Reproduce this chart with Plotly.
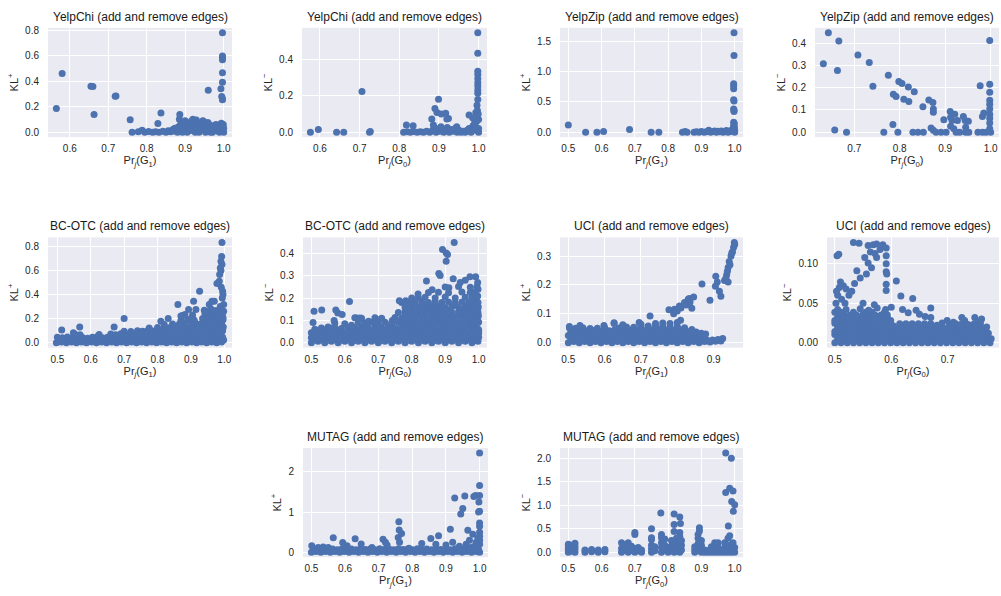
import plotly.graph_objects as go

# ---------------- data (Pr_j, KL) ----------------
yelpchi_kl_pos = [
    (0.565, 0.186), (0.580, 0.459), (0.655, 0.359), (0.660, 0.357), (0.663, 0.139), (0.718, 0.281), (0.720, 0.284),
    (0.757, 0.098), (0.762, 0.000), (0.778, 0.003), (0.788, 0.015), (0.795, 0.000), (0.805, 0.004), (0.815, 0.000),
    (0.823, 0.002), (0.829, 0.067), (0.832, 0.000), (0.837, 0.150), (0.842, 0.006), (0.850, 0.000), (0.856, 0.010),
    (0.862, 0.002), (0.868, 0.020), (0.870, 0.008), (0.873, 0.030), (0.877, 0.008), (0.880, 0.000), (0.882, 0.040),
    (0.885, 0.100), (0.886, 0.139), (0.888, 0.060), (0.890, 0.020), (0.892, 0.035), (0.893, 0.000), (0.897, 0.050),
    (0.900, 0.090), (0.903, 0.030), (0.905, 0.000), (0.906, 0.070), (0.910, 0.010), (0.912, 0.060), (0.913, 0.040),
    (0.915, 0.015), (0.916, 0.085), (0.919, 0.020), (0.920, 0.100), (0.922, 0.060), (0.925, 0.045), (0.926, 0.000),
    (0.929, 0.095), (0.930, 0.080), (0.932, 0.035), (0.935, 0.070), (0.936, 0.000), (0.938, 0.010), (0.941, 0.050),
    (0.944, 0.025), (0.946, 0.090), (0.947, 0.085), (0.950, 0.060), (0.953, 0.000), (0.955, 0.020), (0.956, 0.040),
    (0.959, 0.075), (0.960, 0.328), (0.961, 0.050), (0.962, 0.015), (0.965, 0.055), (0.966, 0.000), (0.968, 0.030),
    (0.971, 0.000), (0.974, 0.045), (0.975, 0.010), (0.977, 0.020), (0.980, 0.060), (0.983, 0.010), (0.985, 0.020),
    (0.986, 0.035), (0.989, 0.000), (0.992, 0.050), (0.993, 0.341), (0.994, 0.070), (0.995, 0.020), (0.995, 0.279),
    (0.997, 0.010), (0.997, 0.253), (0.997, 0.262), (0.997, 0.392), (0.997, 0.465), (0.997, 0.568), (0.997, 0.587),
    (0.997, 0.598), (0.997, 0.779), (0.998, 0.040), (0.999, 0.060), (1.000, 0.000), (1.000, 0.030),
]

yelpchi_kl_neg = [
    (0.576, 0.000), (0.596, 0.015), (0.642, 0.000), (0.660, 0.000), (0.706, 0.224), (0.725, 0.000), (0.727, 0.003),
    (0.811, 0.000), (0.818, 0.040), (0.820, 0.002), (0.828, 0.000), (0.835, 0.035), (0.836, 0.004), (0.845, 0.000),
    (0.853, 0.002), (0.861, 0.000), (0.869, 0.005), (0.877, 0.000), (0.882, 0.073), (0.884, 0.010), (0.886, 0.040),
    (0.889, 0.025), (0.890, 0.131), (0.893, 0.000), (0.895, 0.109), (0.897, 0.015), (0.899, 0.182), (0.902, 0.005),
    (0.905, 0.030), (0.906, 0.100), (0.907, 0.020), (0.912, 0.000), (0.917, 0.105), (0.917, 0.010), (0.920, 0.073),
    (0.921, 0.025), (0.924, 0.075), (0.926, 0.000), (0.931, 0.015), (0.936, 0.005), (0.941, 0.020), (0.945, 0.030),
    (0.946, 0.000), (0.951, 0.010), (0.956, 0.000), (0.961, 0.005), (0.966, 0.000), (0.971, 0.010), (0.976, 0.095),
    (0.976, 0.020), (0.981, 0.000), (0.985, 0.080), (0.986, 0.035), (0.990, 0.050), (0.993, 0.109), (0.993, 0.030),
    (0.994, 0.010), (0.995, 0.060), (0.996, 0.149), (0.997, 0.120), (0.998, 0.180), (0.998, 0.215), (0.998, 0.233),
    (0.998, 0.255), (0.998, 0.273), (0.998, 0.295), (0.998, 0.318), (0.998, 0.336), (0.998, 0.436), (0.998, 0.549),
    (0.999, 0.100), (1.000, 0.000), (1.000, 0.020), (1.000, 0.070),
]

yelpzip_kl_pos = [
    (0.500, 0.120), (0.552, 0.000), (0.586, 0.000), (0.606, 0.010), (0.684, 0.045), (0.749, 0.000), (0.772, 0.000),
    (0.843, 0.000), (0.851, 0.010), (0.857, 0.000), (0.878, 0.000), (0.885, 0.005), (0.893, 0.000), (0.900, 0.010),
    (0.908, 0.000), (0.915, 0.005), (0.922, 0.030), (0.928, 0.000), (0.934, 0.010), (0.940, 0.020), (0.945, 0.000),
    (0.950, 0.015), (0.955, 0.005), (0.960, 0.020), (0.965, 0.000), (0.970, 0.010), (0.975, 0.025), (0.980, 0.000),
    (0.985, 0.020), (0.990, 0.010), (0.994, 0.040), (0.995, 0.055), (0.997, 0.109), (0.997, 0.164), (0.999, 0.080),
    (0.999, 0.140), (0.997, 0.382), (0.998, 0.344), (0.998, 0.364), (0.997, 0.535), (0.998, 0.515), (0.997, 0.720),
    (0.997, 0.764), (0.997, 0.802), (0.998, 1.271), (0.998, 1.647), (1.000, 0.000), (1.000, 0.030),
]

yelpzip_kl_neg = [
    (0.632, 0.308), (0.643, 0.447), (0.657, 0.010), (0.663, 0.277), (0.666, 0.410), (0.683, 0.000), (0.708, 0.347),
    (0.733, 0.313), (0.741, 0.206), (0.765, 0.000), (0.775, 0.256), (0.785, 0.034), (0.786, 0.170), (0.792, 0.160),
    (0.796, 0.000), (0.798, 0.228), (0.805, 0.219), (0.809, 0.148), (0.819, 0.203), (0.820, 0.138), (0.829, 0.000),
    (0.832, 0.182), (0.840, 0.000), (0.851, 0.114), (0.852, 0.000), (0.864, 0.145), (0.869, 0.019), (0.873, 0.133),
    (0.874, 0.104), (0.874, 0.090), (0.874, 0.008), (0.880, 0.000), (0.891, 0.000), (0.897, 0.056), (0.902, 0.000),
    (0.911, 0.093), (0.912, 0.067), (0.912, 0.027), (0.915, 0.052), (0.919, 0.015), (0.921, 0.081), (0.924, 0.000),
    (0.927, 0.052), (0.932, 0.000), (0.940, 0.070), (0.944, 0.052), (0.945, 0.022), (0.945, 0.000), (0.951, 0.049),
    (0.952, 0.000), (0.972, 0.000), (0.977, 0.209), (0.982, 0.070), (0.982, 0.000), (0.985, 0.086), (0.990, 0.000),
    (0.998, 0.412), (0.998, 0.216), (0.998, 0.180), (0.998, 0.144), (0.998, 0.126), (0.998, 0.104), (0.998, 0.081),
    (0.998, 0.062), (0.998, 0.041), (0.998, 0.015), (1.000, 0.000),
]

bcotc_kl_pos = [
    (0.497, 0.000), (0.512, 0.006), (0.527, 0.000), (0.542, 0.006), (0.557, 0.000), (0.572, 0.006), (0.587, 0.000),
    (0.602, 0.006), (0.617, 0.000), (0.632, 0.006), (0.647, 0.000), (0.662, 0.006), (0.677, 0.000), (0.692, 0.006),
    (0.707, 0.000), (0.722, 0.006), (0.737, 0.000), (0.752, 0.006), (0.767, 0.000), (0.782, 0.006), (0.797, 0.000),
    (0.812, 0.006), (0.827, 0.000), (0.842, 0.006), (0.857, 0.000), (0.872, 0.006), (0.887, 0.000), (0.902, 0.006),
    (0.917, 0.000), (0.932, 0.006), (0.947, 0.000), (0.962, 0.006), (0.977, 0.000), (0.992, 0.006),
    (0.504, 0.025), (0.519, 0.020), (0.534, 0.028), (0.549, 0.022), (0.564, 0.026), (0.579, 0.020), (0.594, 0.024),
    (0.609, 0.021), (0.624, 0.027), (0.639, 0.022), (0.654, 0.025), (0.669, 0.020), (0.684, 0.028), (0.699, 0.023),
    (0.714, 0.026), (0.729, 0.021), (0.744, 0.027), (0.759, 0.022), (0.774, 0.025), (0.789, 0.020), (0.804, 0.028),
    (0.819, 0.023), (0.834, 0.026), (0.849, 0.021), (0.864, 0.027), (0.879, 0.022), (0.894, 0.025), (0.909, 0.020),
    (0.924, 0.028), (0.939, 0.023), (0.954, 0.026), (0.969, 0.021), (0.984, 0.027), (0.998, 0.022),
    (0.500, 0.045), (0.515, 0.040), (0.530, 0.048), (0.545, 0.038), (0.560, 0.050), (0.575, 0.042), (0.590, 0.036),
    (0.605, 0.044), (0.620, 0.052), (0.635, 0.040), (0.650, 0.046), (0.665, 0.050), (0.680, 0.042), (0.695, 0.048),
    (0.710, 0.052), (0.725, 0.045), (0.740, 0.050), (0.755, 0.044), (0.770, 0.052), (0.785, 0.047), (0.800, 0.050),
    (0.815, 0.045), (0.830, 0.052), (0.845, 0.047), (0.860, 0.050), (0.875, 0.045), (0.890, 0.052), (0.905, 0.047),
    (0.920, 0.050), (0.935, 0.045), (0.950, 0.052), (0.965, 0.047), (0.980, 0.050), (0.995, 0.045),
    (0.553, 0.070), (0.568, 0.065), (0.625, 0.068), (0.660, 0.072), (0.675, 0.066), (0.690, 0.074), (0.705, 0.070),
    (0.720, 0.076), (0.735, 0.068), (0.750, 0.074), (0.765, 0.070), (0.780, 0.076), (0.795, 0.072), (0.810, 0.078),
    (0.825, 0.073), (0.840, 0.077), (0.855, 0.072), (0.870, 0.078), (0.885, 0.074), (0.900, 0.077), (0.915, 0.072),
    (0.930, 0.078), (0.945, 0.074), (0.960, 0.077), (0.975, 0.072), (0.990, 0.078),
    (0.700, 0.095), (0.720, 0.092), (0.740, 0.098), (0.755, 0.094), (0.770, 0.100), (0.785, 0.096), (0.800, 0.102),
    (0.815, 0.098), (0.830, 0.103), (0.845, 0.099), (0.860, 0.104), (0.875, 0.100), (0.890, 0.104), (0.905, 0.099),
    (0.920, 0.104), (0.935, 0.100), (0.950, 0.104), (0.965, 0.099), (0.980, 0.104), (0.995, 0.100),
    (0.775, 0.122), (0.800, 0.125), (0.820, 0.128), (0.835, 0.124), (0.850, 0.130), (0.865, 0.126), (0.880, 0.131),
    (0.895, 0.127), (0.910, 0.132), (0.925, 0.128), (0.940, 0.132), (0.955, 0.127), (0.970, 0.131), (0.985, 0.127),
    (0.997, 0.130),
    (0.820, 0.150), (0.845, 0.155), (0.865, 0.152), (0.880, 0.158), (0.900, 0.154), (0.915, 0.160), (0.930, 0.155),
    (0.945, 0.160), (0.960, 0.156), (0.975, 0.160), (0.990, 0.155),
    (0.870, 0.185), (0.890, 0.190), (0.910, 0.186), (0.940, 0.190), (0.955, 0.185), (0.970, 0.192), (0.985, 0.188),
    (0.996, 0.190), (0.875, 0.225), (0.905, 0.230), (0.955, 0.226), (0.970, 0.232), (0.985, 0.228), (0.994, 0.235),
    (0.940, 0.270), (0.960, 0.272), (0.975, 0.268), (0.990, 0.275),
    (0.993, 0.833), (0.992, 0.717), (0.993, 0.650), (0.990, 0.676), (0.988, 0.621), (0.990, 0.600), (0.986, 0.566),
    (0.985, 0.510), (0.991, 0.460), (0.995, 0.428), (0.996, 0.400), (0.994, 0.372), (0.998, 0.317), (0.988, 0.300),
    (0.998, 0.262), (0.996, 0.207), (0.992, 0.152), (0.985, 0.110), (0.978, 0.491), (0.970, 0.345), (0.963, 0.345),
    (0.955, 0.317), (0.960, 0.280), (0.945, 0.262), (0.942, 0.240), (0.950, 0.220), (0.926, 0.428), (0.908, 0.345),
    (0.893, 0.276), (0.915, 0.276), (0.861, 0.317), (0.882, 0.234), (0.870, 0.221), (0.832, 0.200), (0.810, 0.179),
    (0.700, 0.200), (0.670, 0.130), (0.567, 0.130), (0.513, 0.105), (0.548, 0.083), (0.935, 0.200), (0.900, 0.200),
]

bcotc_kl_neg = [
    (0.500, 0.000), (0.520, 0.006), (0.540, 0.000), (0.560, 0.006), (0.580, 0.000), (0.600, 0.006), (0.620, 0.000),
    (0.640, 0.006), (0.660, 0.000), (0.680, 0.006), (0.700, 0.000), (0.720, 0.006), (0.740, 0.000), (0.760, 0.006),
    (0.780, 0.000), (0.800, 0.006), (0.820, 0.000), (0.840, 0.006), (0.860, 0.000), (0.880, 0.006), (0.900, 0.000),
    (0.920, 0.006), (0.940, 0.000), (0.960, 0.006), (0.980, 0.000), (0.998, 0.006),
    (0.510, 0.012), (0.530, 0.013), (0.550, 0.011), (0.570, 0.013), (0.590, 0.012), (0.610, 0.013), (0.630, 0.011),
    (0.650, 0.013), (0.670, 0.012), (0.690, 0.013), (0.710, 0.011), (0.730, 0.013), (0.750, 0.012), (0.770, 0.013),
    (0.790, 0.011), (0.810, 0.013), (0.830, 0.012), (0.850, 0.013), (0.870, 0.011), (0.890, 0.013), (0.910, 0.012),
    (0.930, 0.013), (0.950, 0.011), (0.970, 0.013), (0.990, 0.012),
    (0.500, 0.022), (0.520, 0.026), (0.540, 0.020), (0.560, 0.025), (0.580, 0.021), (0.600, 0.026), (0.620, 0.022),
    (0.640, 0.025), (0.660, 0.020), (0.680, 0.026), (0.700, 0.022), (0.720, 0.025), (0.740, 0.021), (0.760, 0.026),
    (0.780, 0.022), (0.800, 0.025), (0.820, 0.020), (0.840, 0.026), (0.860, 0.022), (0.880, 0.025), (0.900, 0.021),
    (0.920, 0.026), (0.940, 0.022), (0.960, 0.025), (0.980, 0.022), (1.000, 0.024),
    (0.510, 0.034), (0.530, 0.035), (0.550, 0.033), (0.570, 0.035), (0.590, 0.034), (0.610, 0.035), (0.630, 0.033),
    (0.650, 0.035), (0.670, 0.034), (0.690, 0.035), (0.710, 0.033), (0.730, 0.035), (0.750, 0.034), (0.770, 0.035),
    (0.790, 0.033), (0.810, 0.035), (0.830, 0.034), (0.850, 0.035), (0.870, 0.033), (0.890, 0.035), (0.910, 0.034),
    (0.930, 0.035), (0.950, 0.033), (0.970, 0.035), (0.990, 0.034),
    (0.500, 0.045), (0.520, 0.042), (0.540, 0.048), (0.560, 0.044), (0.580, 0.047), (0.600, 0.043), (0.620, 0.048),
    (0.640, 0.044), (0.660, 0.047), (0.680, 0.043), (0.700, 0.048), (0.720, 0.044), (0.740, 0.047), (0.760, 0.043),
    (0.780, 0.048), (0.800, 0.044), (0.820, 0.047), (0.840, 0.043), (0.860, 0.048), (0.880, 0.044), (0.900, 0.047),
    (0.920, 0.043), (0.940, 0.048), (0.960, 0.044), (0.980, 0.047), (1.000, 0.043),
    (0.520, 0.056), (0.540, 0.057), (0.580, 0.056), (0.620, 0.057), (0.640, 0.056), (0.660, 0.058), (0.680, 0.056),
    (0.700, 0.058), (0.720, 0.057), (0.740, 0.058), (0.760, 0.056), (0.780, 0.058), (0.800, 0.057), (0.820, 0.058),
    (0.840, 0.056), (0.860, 0.058), (0.880, 0.057), (0.900, 0.058), (0.920, 0.056), (0.940, 0.058), (0.960, 0.057),
    (0.980, 0.058), (1.000, 0.056),
    (0.510, 0.060), (0.530, 0.066), (0.550, 0.062), (0.570, 0.068), (0.590, 0.064), (0.610, 0.068), (0.630, 0.066),
    (0.650, 0.070), (0.670, 0.066), (0.690, 0.070), (0.710, 0.067), (0.730, 0.070), (0.750, 0.066), (0.770, 0.070),
    (0.790, 0.067), (0.810, 0.070), (0.830, 0.066), (0.850, 0.070), (0.870, 0.067), (0.890, 0.070), (0.910, 0.066),
    (0.930, 0.070), (0.950, 0.067), (0.970, 0.070), (0.990, 0.066),
    (0.620, 0.078), (0.660, 0.079), (0.700, 0.078), (0.740, 0.079), (0.770, 0.080), (0.790, 0.078), (0.810, 0.080),
    (0.830, 0.079), (0.850, 0.081), (0.870, 0.079), (0.890, 0.081), (0.910, 0.079), (0.930, 0.081), (0.950, 0.079),
    (0.970, 0.081), (0.990, 0.079),
    (0.570, 0.088), (0.600, 0.085), (0.640, 0.090), (0.660, 0.088), (0.680, 0.092), (0.700, 0.088), (0.720, 0.092),
    (0.740, 0.088), (0.760, 0.092), (0.780, 0.089), (0.800, 0.093), (0.820, 0.089), (0.840, 0.093), (0.860, 0.089),
    (0.880, 0.093), (0.900, 0.089), (0.920, 0.093), (0.940, 0.089), (0.960, 0.093), (0.980, 0.089), (1.000, 0.093),
    (0.770, 0.102), (0.790, 0.101), (0.810, 0.103), (0.830, 0.101), (0.850, 0.103), (0.870, 0.101), (0.890, 0.103),
    (0.910, 0.101), (0.930, 0.103), (0.950, 0.101), (0.970, 0.103), (0.990, 0.101),
    (0.630, 0.112), (0.650, 0.110), (0.690, 0.112), (0.710, 0.110), (0.750, 0.113), (0.770, 0.110), (0.790, 0.114),
    (0.810, 0.111), (0.830, 0.115), (0.850, 0.111), (0.870, 0.115), (0.890, 0.112), (0.910, 0.115), (0.930, 0.111),
    (0.950, 0.115), (0.970, 0.112), (0.990, 0.115),
    (0.780, 0.125), (0.800, 0.124), (0.820, 0.126), (0.840, 0.124), (0.860, 0.126), (0.880, 0.124), (0.900, 0.126),
    (0.920, 0.124), (0.940, 0.126), (0.960, 0.124), (0.980, 0.126), (0.998, 0.124),
    (0.760, 0.135), (0.780, 0.138), (0.800, 0.134), (0.820, 0.138), (0.840, 0.135), (0.860, 0.139), (0.880, 0.135),
    (0.900, 0.139), (0.920, 0.135), (0.940, 0.139), (0.960, 0.135), (0.980, 0.139), (0.998, 0.135),
    (0.790, 0.147), (0.810, 0.148), (0.830, 0.146), (0.850, 0.148), (0.870, 0.147), (0.890, 0.148), (0.910, 0.146),
    (0.950, 0.148), (0.970, 0.147), (0.990, 0.148),
    (0.780, 0.158), (0.800, 0.160), (0.820, 0.157), (0.840, 0.161), (0.860, 0.158), (0.880, 0.161), (0.900, 0.157),
    (0.920, 0.161), (0.940, 0.158), (0.960, 0.161), (0.980, 0.157), (0.999, 0.160),
    (0.800, 0.170), (0.830, 0.171), (0.850, 0.169), (0.870, 0.171), (0.890, 0.170), (0.930, 0.171), (0.970, 0.170),
    (0.990, 0.171),
    (0.770, 0.180), (0.790, 0.182), (0.810, 0.179), (0.830, 0.183), (0.850, 0.180), (0.870, 0.184), (0.890, 0.180),
    (0.910, 0.183), (0.930, 0.179), (0.950, 0.183), (0.970, 0.180), (0.990, 0.183),
    (0.820, 0.200), (0.840, 0.204), (0.870, 0.201), (0.900, 0.205), (0.930, 0.200), (0.960, 0.204), (0.980, 0.201),
    (0.995, 0.205), (0.850, 0.225), (0.880, 0.226), (0.910, 0.224), (0.950, 0.227), (0.975, 0.225), (0.990, 0.228),
    (0.900, 0.250), (0.940, 0.252), (0.975, 0.249), (0.995, 0.251),
    (0.927, 0.450), (0.892, 0.418), (0.903, 0.403), (0.907, 0.396), (0.903, 0.366), (0.881, 0.311), (0.885, 0.302),
    (0.924, 0.287), (0.844, 0.277), (0.991, 0.296), (0.974, 0.296), (0.960, 0.280), (0.945, 0.270), (0.911, 0.247),
    (0.861, 0.237), (0.614, 0.185), (0.508, 0.141), (0.531, 0.147), (0.573, 0.147), (0.579, 0.133), (0.592, 0.126),
    (0.568, 0.099), (0.635, 0.111), (0.645, 0.111), (0.692, 0.107), (0.671, 0.096), (0.742, 0.099), (0.763, 0.188),
    (0.782, 0.188), (0.800, 0.200), (0.819, 0.218), (0.505, 0.090), (0.550, 0.070), (0.556, 0.065),
    (0.997, 0.270), (0.998, 0.240), (0.997, 0.210), (0.998, 0.180), (0.997, 0.150), (0.999, 0.120), (0.998, 0.090),
    (0.999, 0.060), (0.998, 0.035),
]

uci_kl_pos = [
    (0.500, 0.000), (0.515, 0.004), (0.530, 0.000), (0.545, 0.004), (0.560, 0.000), (0.575, 0.004), (0.590, 0.000),
    (0.605, 0.004), (0.620, 0.000), (0.635, 0.004), (0.650, 0.000), (0.665, 0.004), (0.680, 0.000), (0.695, 0.004),
    (0.710, 0.000), (0.725, 0.004), (0.740, 0.000), (0.755, 0.004), (0.770, 0.000), (0.785, 0.004), (0.800, 0.000),
    (0.815, 0.004), (0.830, 0.000), (0.845, 0.004), (0.860, 0.000), (0.875, 0.004), (0.890, 0.002), (0.905, 0.005),
    (0.920, 0.006),
    (0.507, 0.012), (0.522, 0.010), (0.537, 0.013), (0.552, 0.011), (0.567, 0.013), (0.582, 0.010), (0.597, 0.012),
    (0.612, 0.011), (0.627, 0.013), (0.642, 0.010), (0.657, 0.012), (0.672, 0.011), (0.687, 0.013), (0.702, 0.010),
    (0.717, 0.012), (0.732, 0.011), (0.747, 0.013), (0.762, 0.010), (0.777, 0.012), (0.792, 0.011), (0.807, 0.013),
    (0.822, 0.010), (0.837, 0.012), (0.852, 0.010), (0.867, 0.011), (0.882, 0.008), (0.897, 0.009), (0.912, 0.011),
    (0.925, 0.014),
    (0.500, 0.025), (0.515, 0.027), (0.530, 0.024), (0.545, 0.028), (0.560, 0.025), (0.575, 0.027), (0.590, 0.024),
    (0.605, 0.028), (0.620, 0.025), (0.635, 0.027), (0.650, 0.024), (0.665, 0.028), (0.680, 0.025), (0.695, 0.027),
    (0.710, 0.024), (0.725, 0.028), (0.740, 0.025), (0.755, 0.027), (0.770, 0.024), (0.785, 0.028), (0.800, 0.025),
    (0.815, 0.027), (0.830, 0.024), (0.845, 0.026), (0.860, 0.023), (0.875, 0.022),
    (0.507, 0.034), (0.522, 0.033), (0.537, 0.034), (0.552, 0.033), (0.567, 0.034), (0.582, 0.033), (0.597, 0.034),
    (0.612, 0.033), (0.627, 0.034), (0.642, 0.033), (0.657, 0.034), (0.672, 0.033), (0.687, 0.034), (0.702, 0.033),
    (0.717, 0.034), (0.732, 0.033), (0.747, 0.034), (0.762, 0.033), (0.777, 0.034), (0.792, 0.033), (0.807, 0.034),
    (0.822, 0.033), (0.837, 0.032), (0.852, 0.030),
    (0.507, 0.042), (0.522, 0.040), (0.537, 0.043), (0.552, 0.041), (0.567, 0.042), (0.582, 0.040), (0.597, 0.043),
    (0.612, 0.041), (0.627, 0.044), (0.642, 0.042), (0.657, 0.044), (0.672, 0.043), (0.687, 0.045), (0.702, 0.043),
    (0.717, 0.046), (0.732, 0.044), (0.747, 0.046), (0.762, 0.044), (0.777, 0.046), (0.792, 0.043), (0.807, 0.045),
    (0.822, 0.042), (0.837, 0.040), (0.852, 0.037), (0.866, 0.033), (0.878, 0.030),
    (0.503, 0.052), (0.520, 0.050), (0.540, 0.052), (0.560, 0.049), (0.580, 0.050), (0.600, 0.052), (0.640, 0.051),
    (0.660, 0.054), (0.680, 0.053), (0.700, 0.056), (0.720, 0.058), (0.740, 0.056), (0.760, 0.058), (0.780, 0.055),
    (0.800, 0.056), (0.820, 0.052), (0.840, 0.046),
    (0.626, 0.066), (0.650, 0.062), (0.700, 0.064), (0.740, 0.066), (0.760, 0.068), (0.780, 0.066), (0.800, 0.070),
    (0.777, 0.114), (0.792, 0.116), (0.806, 0.127), (0.820, 0.139), (0.833, 0.153), (0.845, 0.158), (0.840, 0.119),
    (0.809, 0.078), (0.790, 0.100), (0.800, 0.110), (0.810, 0.120), (0.825, 0.130), (0.835, 0.140), (0.830, 0.150),
    (0.868, 0.203), (0.890, 0.147), (0.906, 0.230), (0.905, 0.195), (0.910, 0.210), (0.916, 0.178), (0.920, 0.161),
    (0.930, 0.215), (0.934, 0.224), (0.936, 0.235), (0.938, 0.247), (0.940, 0.210), (0.940, 0.260), (0.943, 0.281),
    (0.945, 0.270), (0.948, 0.300), (0.950, 0.310), (0.952, 0.315), (0.955, 0.330), (0.957, 0.347), (0.958, 0.340),
    (0.725, 0.092), (0.695, 0.070), (0.626, 0.069), (0.598, 0.059), (0.503, 0.056), (0.532, 0.059),
]

uci_kl_neg = [
    (0.500, 0.000), (0.511, 0.000), (0.522, 0.000), (0.533, 0.000), (0.544, 0.000), (0.555, 0.000), (0.566, 0.000),
    (0.577, 0.000), (0.588, 0.000), (0.599, 0.000),
    (0.505, 0.0035), (0.516, 0.0035), (0.527, 0.0035), (0.538, 0.0035), (0.549, 0.0035), (0.560, 0.0035),
    (0.571, 0.0035), (0.582, 0.0035), (0.593, 0.0035), (0.604, 0.0035),
    (0.505, 0.007), (0.516, 0.007), (0.527, 0.007), (0.538, 0.007), (0.549, 0.007), (0.560, 0.007), (0.571, 0.007),
    (0.582, 0.007), (0.593, 0.007), (0.604, 0.007),
    (0.500, 0.0105), (0.511, 0.0105), (0.522, 0.0105), (0.533, 0.0105), (0.544, 0.0105), (0.555, 0.0105),
    (0.566, 0.0105), (0.577, 0.0105), (0.588, 0.0105), (0.599, 0.0105),
    (0.500, 0.014), (0.511, 0.014), (0.522, 0.014), (0.533, 0.014), (0.544, 0.014), (0.555, 0.014), (0.566, 0.014),
    (0.577, 0.014), (0.588, 0.014), (0.599, 0.014),
    (0.505, 0.0175), (0.516, 0.0175), (0.527, 0.0175), (0.538, 0.0175), (0.549, 0.0175), (0.560, 0.0175),
    (0.571, 0.0175), (0.582, 0.0175), (0.593, 0.0175), (0.604, 0.0175),
    (0.505, 0.021), (0.516, 0.021), (0.527, 0.021), (0.538, 0.021), (0.549, 0.021), (0.560, 0.021), (0.571, 0.021),
    (0.582, 0.021), (0.593, 0.021), (0.604, 0.021),
    (0.500, 0.0245), (0.511, 0.0245), (0.522, 0.0245), (0.533, 0.0245), (0.544, 0.0245), (0.555, 0.0245),
    (0.566, 0.0245), (0.577, 0.0245), (0.588, 0.0245), (0.599, 0.0245),
    (0.500, 0.028), (0.511, 0.028), (0.522, 0.028), (0.533, 0.028), (0.544, 0.028), (0.555, 0.028), (0.566, 0.028),
    (0.577, 0.028), (0.588, 0.028), (0.599, 0.028),
    (0.505, 0.0315), (0.516, 0.0315), (0.527, 0.0315), (0.538, 0.0315), (0.549, 0.0315), (0.560, 0.0315),
    (0.571, 0.0315), (0.582, 0.0315), (0.593, 0.0315),
    (0.505, 0.035), (0.516, 0.035), (0.527, 0.035), (0.538, 0.035), (0.549, 0.035), (0.560, 0.035), (0.571, 0.035),
    (0.582, 0.035), (0.593, 0.035),
    (0.500, 0.0385), (0.511, 0.0385), (0.533, 0.0385), (0.555, 0.0385), (0.566, 0.0385), (0.588, 0.0385),
    (0.505, 0.042), (0.520, 0.042), (0.545, 0.043), (0.560, 0.041), (0.575, 0.044), (0.590, 0.042),
    (0.610, 0.000), (0.621, 0.000), (0.632, 0.000), (0.643, 0.000), (0.654, 0.000), (0.665, 0.000), (0.676, 0.000),
    (0.687, 0.000), (0.698, 0.000), (0.709, 0.000), (0.720, 0.000), (0.731, 0.000), (0.742, 0.000), (0.753, 0.000),
    (0.764, 0.000), (0.775, 0.000),
    (0.615, 0.004), (0.626, 0.004), (0.637, 0.004), (0.648, 0.004), (0.659, 0.004), (0.670, 0.004), (0.681, 0.004),
    (0.692, 0.004), (0.703, 0.004), (0.714, 0.004), (0.725, 0.004), (0.736, 0.004), (0.747, 0.004), (0.758, 0.004),
    (0.769, 0.004),
    (0.615, 0.008), (0.626, 0.008), (0.637, 0.008), (0.648, 0.008), (0.659, 0.008), (0.670, 0.008), (0.681, 0.008),
    (0.692, 0.008), (0.703, 0.008), (0.714, 0.008), (0.725, 0.008), (0.736, 0.008), (0.747, 0.008), (0.758, 0.008),
    (0.769, 0.008), (0.777, 0.005),
    (0.610, 0.012), (0.621, 0.012), (0.632, 0.012), (0.643, 0.012), (0.654, 0.012), (0.665, 0.012), (0.676, 0.012),
    (0.687, 0.012), (0.698, 0.012), (0.709, 0.012), (0.720, 0.012), (0.731, 0.012), (0.742, 0.012), (0.753, 0.012),
    (0.764, 0.012),
    (0.610, 0.016), (0.621, 0.016), (0.632, 0.016), (0.643, 0.016), (0.654, 0.016), (0.665, 0.016), (0.676, 0.016),
    (0.687, 0.016), (0.698, 0.016), (0.709, 0.016), (0.720, 0.016), (0.731, 0.016), (0.742, 0.016), (0.753, 0.016),
    (0.764, 0.016), (0.772, 0.012),
    (0.615, 0.020), (0.626, 0.020), (0.637, 0.020), (0.648, 0.020), (0.659, 0.020), (0.670, 0.020), (0.692, 0.019),
    (0.714, 0.020), (0.725, 0.020), (0.736, 0.019), (0.747, 0.020), (0.758, 0.020),
    (0.615, 0.024), (0.626, 0.024), (0.637, 0.024), (0.648, 0.024), (0.659, 0.024), (0.670, 0.024), (0.681, 0.022),
    (0.703, 0.022), (0.714, 0.024), (0.725, 0.024), (0.736, 0.023), (0.747, 0.024), (0.758, 0.024), (0.769, 0.020),
    (0.502, 0.050), (0.505, 0.060), (0.508, 0.070), (0.510, 0.077), (0.503, 0.065), (0.515, 0.072), (0.520, 0.068),
    (0.525, 0.060), (0.530, 0.065), (0.535, 0.075), (0.512, 0.055), (0.518, 0.050),
    (0.504, 0.110), (0.507, 0.112), (0.533, 0.127), (0.543, 0.126), (0.559, 0.123), (0.568, 0.124), (0.574, 0.125),
    (0.585, 0.124), (0.591, 0.120), (0.553, 0.108), (0.559, 0.101), (0.563, 0.115), (0.574, 0.108), (0.571, 0.113),
    (0.580, 0.118), (0.591, 0.110), (0.591, 0.100), (0.591, 0.090), (0.539, 0.091), (0.545, 0.082), (0.556, 0.087),
    (0.565, 0.095), (0.592, 0.087), (0.591, 0.074), (0.591, 0.066), (0.609, 0.078), (0.617, 0.059), (0.638, 0.056),
    (0.644, 0.041), (0.670, 0.044), (0.670, 0.032), (0.725, 0.032), (0.748, 0.032), (0.760, 0.030), (0.699, 0.028),
    (0.550, 0.050), (0.570, 0.048), (0.600, 0.045), (0.620, 0.042), (0.630, 0.038), (0.650, 0.036), (0.660, 0.033),
    (0.690, 0.025), (0.710, 0.026), (0.730, 0.028), (0.755, 0.026),
]

mutag_kl_pos = [
    (0.500, 0.000), (0.514, 0.020), (0.528, 0.000), (0.542, 0.020), (0.556, 0.000), (0.570, 0.020), (0.584, 0.000),
    (0.598, 0.020), (0.612, 0.000), (0.626, 0.020), (0.640, 0.000), (0.654, 0.020), (0.668, 0.000), (0.682, 0.020),
    (0.696, 0.000), (0.710, 0.020), (0.724, 0.000), (0.738, 0.020), (0.752, 0.000), (0.766, 0.020), (0.780, 0.000),
    (0.794, 0.020), (0.808, 0.000), (0.822, 0.020), (0.836, 0.000), (0.850, 0.020), (0.864, 0.000), (0.878, 0.020),
    (0.892, 0.000), (0.906, 0.020), (0.920, 0.000), (0.934, 0.020), (0.948, 0.000), (0.962, 0.020), (0.976, 0.000),
    (0.990, 0.020), (1.000, 0.000),
    (0.507, 0.080), (0.521, 0.070), (0.535, 0.090), (0.549, 0.070), (0.563, 0.080), (0.577, 0.060), (0.591, 0.090),
    (0.605, 0.070), (0.619, 0.080), (0.633, 0.060), (0.647, 0.090), (0.661, 0.070), (0.675, 0.080), (0.689, 0.060),
    (0.703, 0.090), (0.717, 0.070), (0.731, 0.080), (0.745, 0.060), (0.759, 0.090), (0.773, 0.070), (0.787, 0.080),
    (0.801, 0.060), (0.815, 0.090), (0.829, 0.070), (0.843, 0.080), (0.857, 0.060), (0.871, 0.090), (0.885, 0.070),
    (0.899, 0.080), (0.913, 0.060), (0.927, 0.090), (0.941, 0.070), (0.955, 0.080), (0.969, 0.060), (0.983, 0.090),
    (0.997, 0.070),
    (0.501, 0.163), (0.520, 0.120), (0.535, 0.130), (0.550, 0.120), (0.565, 0.360), (0.593, 0.245), (0.606, 0.163),
    (0.630, 0.335), (0.648, 0.204), (0.680, 0.120), (0.713, 0.327), (0.720, 0.250), (0.725, 0.180), (0.758, 0.367),
    (0.760, 0.760), (0.761, 0.555), (0.768, 0.465), (0.762, 0.250), (0.790, 0.100), (0.828, 0.220), (0.855, 0.343),
    (0.870, 0.200), (0.878, 0.410), (0.900, 0.180), (0.913, 0.570), (0.920, 0.250), (0.926, 1.350), (0.944, 0.955),
    (0.950, 1.090), (0.956, 1.400), (0.960, 0.200), (0.965, 0.547), (0.970, 0.300), (0.980, 0.450), (0.983, 1.390),
    (0.988, 1.410), (0.990, 0.250), (0.995, 0.350), (0.998, 1.250), (1.000, 2.470), (1.000, 1.660), (1.000, 1.410),
    (1.000, 1.020), (0.997, 1.000), (1.000, 0.730), (1.000, 0.650), (1.000, 0.500), (1.000, 0.400), (1.000, 0.300),
    (1.000, 0.200), (0.985, 0.150), (0.975, 0.120), (0.940, 0.150),
]

mutag_kl_neg = [
    (0.500, 0.000), (0.500, 0.060), (0.500, 0.120), (0.500, 0.170), (0.510, 0.020), (0.510, 0.090), (0.510, 0.150),
    (0.520, 0.000), (0.520, 0.070), (0.520, 0.130), (0.520, 0.190), (0.550, 0.000), (0.550, 0.050), (0.570, 0.010),
    (0.570, 0.060), (0.590, 0.000), (0.590, 0.050), (0.610, 0.010), (0.610, 0.060), (0.660, 0.000), (0.660, 0.080),
    (0.660, 0.200), (0.670, 0.050), (0.670, 0.150), (0.680, 0.000), (0.680, 0.100), (0.680, 0.200), (0.690, 0.040),
    (0.690, 0.130), (0.700, 0.000), (0.700, 0.080), (0.700, 0.380), (0.700, 0.420), (0.710, 0.030), (0.710, 0.100),
    (0.720, 0.000), (0.720, 0.050), (0.750, 0.000), (0.750, 0.070), (0.750, 0.150), (0.750, 0.270), (0.750, 0.310),
    (0.750, 0.500), (0.760, 0.030), (0.760, 0.120), (0.780, 0.000), (0.780, 0.100), (0.780, 0.200), (0.780, 0.310),
    (0.780, 0.380), (0.778, 0.836), (0.790, 0.050), (0.790, 0.150), (0.790, 0.280), (0.800, 0.000), (0.800, 0.100),
    (0.810, 0.040), (0.810, 0.140), (0.810, 0.250), (0.818, 0.000), (0.818, 0.200), (0.818, 0.440), (0.818, 0.590),
    (0.818, 0.815), (0.825, 0.060), (0.825, 0.160), (0.825, 0.300), (0.835, 0.000), (0.835, 0.100), (0.835, 0.200),
    (0.835, 0.335), (0.835, 0.420), (0.837, 0.610), (0.835, 0.750), (0.840, 0.050), (0.840, 0.150), (0.840, 0.250),
    (0.880, 0.000), (0.880, 0.060), (0.880, 0.120), (0.890, 0.030), (0.890, 0.100), (0.890, 0.180), (0.890, 0.300),
    (0.890, 0.380), (0.894, 0.450), (0.894, 0.520), (0.900, 0.000), (0.900, 0.080), (0.900, 0.150), (0.900, 0.250),
    (0.910, 0.000), (0.910, 0.050), (0.920, 0.000), (0.920, 0.040), (0.930, 0.000), (0.930, 0.060), (0.930, 0.120),
    (0.940, 0.000), (0.940, 0.070), (0.940, 0.150), (0.940, 0.200), (0.950, 0.000), (0.950, 0.100), (0.950, 0.200),
    (0.960, 0.000), (0.960, 0.050), (0.970, 0.000), (0.970, 0.100), (0.970, 0.200), (0.973, 2.110), (0.973, 1.270),
    (0.980, 0.000), (0.980, 0.070), (0.980, 0.300), (0.981, 0.560), (0.985, 0.150), (0.985, 0.350), (0.985, 1.360),
    (0.990, 0.000), (0.990, 0.080), (0.990, 2.000), (0.991, 1.080), (0.995, 0.050), (0.995, 0.200), (0.995, 1.300),
    (0.996, 0.870), (1.000, 0.000), (1.000, 0.100), (1.000, 1.010),
]

titles = [
    "YelpChi (add and remove edges)", "YelpChi (add and remove edges)",
    "YelpZip (add and remove edges)", "YelpZip (add and remove edges)",
    "BC-OTC (add and remove edges)", "BC-OTC (add and remove edges)",
    "UCI (add and remove edges)", "UCI (add and remove edges)",
    "MUTAG (add and remove edges)", "MUTAG (add and remove edges)",
]
series = [yelpchi_kl_pos, yelpchi_kl_neg, yelpzip_kl_pos, yelpzip_kl_neg,
          bcotc_kl_pos, bcotc_kl_neg, uci_kl_pos, uci_kl_neg,
          mutag_kl_pos, mutag_kl_neg]
kinds = ["+", "-", "+", "-", "+", "-", "+", "-", "+", "-"]

# ---------------- layout (pixel boxes: left, right, top, bottom) ----------------
W, H = 1001, 596
boxes = [
    (48, 232, 25, 135), (302, 487, 25, 135), (560, 743, 25, 135), (815, 999, 25, 135),
    (48, 232, 236, 347), (303, 487, 236, 347), (560, 743, 236, 347), (827, 999, 236, 347),
    (303, 488, 448, 558), (560, 743, 448, 558),
]
ydticks = [0.2, 0.2, 0.5, 0.1, 0.2, 0.1, 0.1, 0.05, 1, 0.5]
yfmts = [".1f", ".1f", ".1f", ".1f", ".1f", ".1f", ".1f", ".2f", "d", ".1f"]

BLUE = "#4C72B0"
TXT = "#262626"
FONT = "Arial, 'Liberation Sans', sans-serif"

XLAB = {"+": "Pr<sub><i>j</i></sub>(G<sub>1</sub>)", "-": "Pr<sub><i>j</i></sub>(G<sub>0</sub>)"}
YLAB = {"+": "KL<sup>+</sup>", "-": "KL<sup>−</sup>"}


def padded(vals):
    lo, hi = min(vals), max(vals)
    m = (hi - lo) * 0.05
    return [lo - m, hi + m]


fig = go.Figure()
annotations = []
for i, (pts, title, kind, box, ydt, yf) in enumerate(zip(series, titles, kinds, boxes, ydticks, yfmts), start=1):
    xs = [p[0] for p in pts]
    ys = [p[1] for p in pts]
    sfx = "" if i == 1 else str(i)
    fig.add_trace(go.Scatter(
        x=xs, y=ys, mode="markers", xaxis="x" + sfx, yaxis="y" + sfx, showlegend=False,
        marker=dict(color=BLUE, size=7, line=dict(width=0)),
    ))
    l, r, t, b = box
    xd = [l / W, r / W]
    yd = [1 - b / H, 1 - t / H]
    common = dict(showgrid=True, gridcolor="white", gridwidth=1, zeroline=False, showline=False,
                  tickfont=dict(family=FONT, size=10, color=TXT), ticks="outside",
                  tickcolor="rgba(0,0,0,0)")
    fig.layout["xaxis" + sfx] = dict(
        domain=xd, anchor="y" + sfx, range=padded(xs), dtick=0.1, tick0=0, tickformat=".1f",
        ticklen=2, title=dict(text=XLAB[kind], font=dict(family=FONT, size=11, color=TXT), standoff=3),
        **common)
    fig.layout["yaxis" + sfx] = dict(
        domain=yd, anchor="x" + sfx, range=padded(ys), dtick=ydt, tick0=0, tickformat=yf,
        ticklen=6, title=dict(text=YLAB[kind], font=dict(family=FONT, size=11, color=TXT), standoff=4),
        **common)
    annotations.append(dict(
        text=title, x=(xd[0] + xd[1]) / 2, y=1 - (t - 11) / H, xref="paper", yref="paper",
        xanchor="center", yanchor="middle", showarrow=False,
        font=dict(family=FONT, size=12, color="#1a1a1a"),
    ))

fig.update_layout(
    width=W, height=H, margin=dict(l=0, r=0, t=0, b=0),
    paper_bgcolor="white", plot_bgcolor="#EAEAF2",
    annotations=annotations, font=dict(family=FONT, color=TXT),
)

fig.write_html(
    "out.html",
    config={"displayModeBar": False},
    post_script="document.body.style.margin='0px';document.body.style.overflow='hidden';",
)
